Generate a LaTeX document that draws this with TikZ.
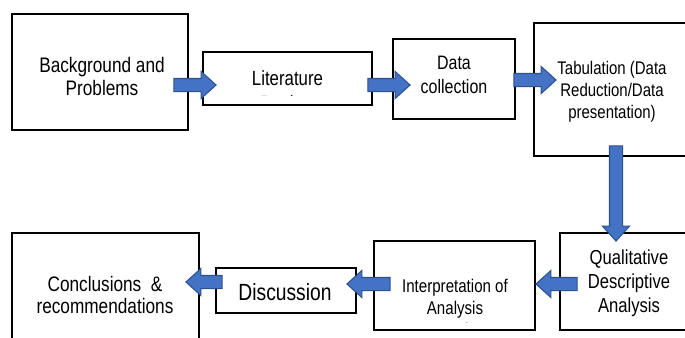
\documentclass[tikz,border=0pt]{standalone}
\usepackage{fontspec}
\setmainfont{Liberation Sans}[FakeStretch=0.82]
\usetikzlibrary{calc}
\definecolor{arrfill}{HTML}{4472C4}
\definecolor{arrline}{HTML}{2F528F}
\newcommand\fs[2]{\fontsize{#1}{#2}\selectfont}
\tikzset{
  box/.style={draw=black, line width=1.4pt, inner sep=0pt, fill=white},
  lbl/.style={inner sep=0pt, align=center, text=black},
  barrow/.style={fill=arrfill, draw=arrline, line width=0.8pt, line join=miter},
}
\newcommand\blockarr[2]{%
  \path ($(#2)!11.25pt!(#1)$) coordinate (hh);
  \draw[barrow] ($(#1)!4.9pt!90:(#2)$) -- ($(hh)!4.9pt!90:(#2)$) -- ($(hh)!10.2pt!90:(#2)$) -- (#2)
     -- ($(hh)!10.2pt!-90:(#2)$) -- ($(hh)!4.9pt!-90:(#2)$) -- ($(#1)!4.9pt!-90:(#2)$) -- cycle;}
\begin{document}
\begin{tikzpicture}[x=0.75pt,y=-0.75pt]
\useasboundingbox (0,0) rectangle (685,337);
\clip (0,0) rectangle (685,337);
\fill[white] (0,0) rectangle (685,337);
% boxes
\node[box, minimum width=132pt, minimum height=87pt] (bg) at (100,72) {};
\node[box, minimum width=126.75pt, minimum height=39.75pt] (lit) at (287.5,78.5) {};
\node[box, minimum width=91.5pt, minimum height=60pt] (dc) at (454,79) {};
\node[box, minimum width=124.5pt, minimum height=99.75pt] (tab) at (617,89.5) {};
\node[box, minimum width=105pt, minimum height=72.75pt] (qual) at (630,281.5) {};
\node[box, minimum width=120.75pt, minimum height=66.75pt] (interp) at (454.5,285.5) {};
\node[box, minimum width=105pt, minimum height=33.75pt] (disc) at (286,290.5) {};
\node[box, minimum width=140.25pt, minimum height=87.75pt] (concl) at (105.5,291.5) {};
% texts
\node[lbl, font=\fs{15.75pt}{17.25pt}] (bgt) at (102,76) {Background and\\Problems};
\begin{scope}
  \clip (203,52) rectangle (372,95.5);
  \node[lbl, font=\fs{15.4pt}{18.75pt}] (litt) at (287.5,91) {Literature\\Review};
\end{scope}
\node[lbl, font=\fs{14.6pt}{18pt}] (dct) at (454,74.5) {Data\\collection};
\node[lbl, font=\fs{13.7pt}{16.5pt}] (tabt) at (612,92) {Tabulation (Data\\Reduction/Data\\presentation)};
\node[lbl, font=\fs{15.2pt}{18pt}] (qualt) at (629,283) {Qualitative\\Descriptive\\Analysis};
\begin{scope}
  \clip (374,241) rectangle (535,322.5);
  \node[lbl, font=\fs{13.8pt}{16.5pt}] (interpt) at (455,307.5) {Interpretation of\\Analysis\\Results};
\end{scope}
\node[lbl, font=\fs{17.6pt}{20pt}, anchor=base] (disct) at (285,300.7) {Discussion};
\node[lbl, font=\fs{15.75pt}{16.5pt}] (conclt) at (105,295) {Conclusions\ \ \&\\recommendations};
% arrow end points
\coordinate (a1s) at ($(bg.east)+(-15,13)$);
\coordinate (a1e) at ($(lit.west)+(14,6.5)$);
\coordinate (a2s) at ($(lit.east)+(-5,6.5)$);
\coordinate (a2e) at ($(dc.west)+(18,6)$);
\coordinate (a3s) at ($(dc.east)+(-2,1)$);
\coordinate (a3e) at ($(tab.west)+(23,-9.5)$);
\coordinate (a4s) at ($(tab.south)+(-1,-11)$);
\coordinate (a4e) at ($(qual.north)+(-14,9)$);
\coordinate (a5s) at ($(qual.west)+(18,2.5)$);
\coordinate (a5e) at ($(interp.east)+(0,-1.5)$);
\coordinate (a6s) at ($(interp.west)+(17,-1.5)$);
\coordinate (a6e) at ($(disc.east)+(-10,-6.5)$);
\coordinate (a7s) at ($(disc.west)+(7,-8.5)$);
\coordinate (a7e) at ($(concl.east)+(-14,-9.5)$);
\blockarr{a1s}{a1e}
\blockarr{a2s}{a2e}
\blockarr{a3s}{a3e}
\blockarr{a4s}{a4e}
\blockarr{a5s}{a5e}
\blockarr{a6s}{a6e}
\blockarr{a7s}{a7e}
\end{tikzpicture}
\end{document}
